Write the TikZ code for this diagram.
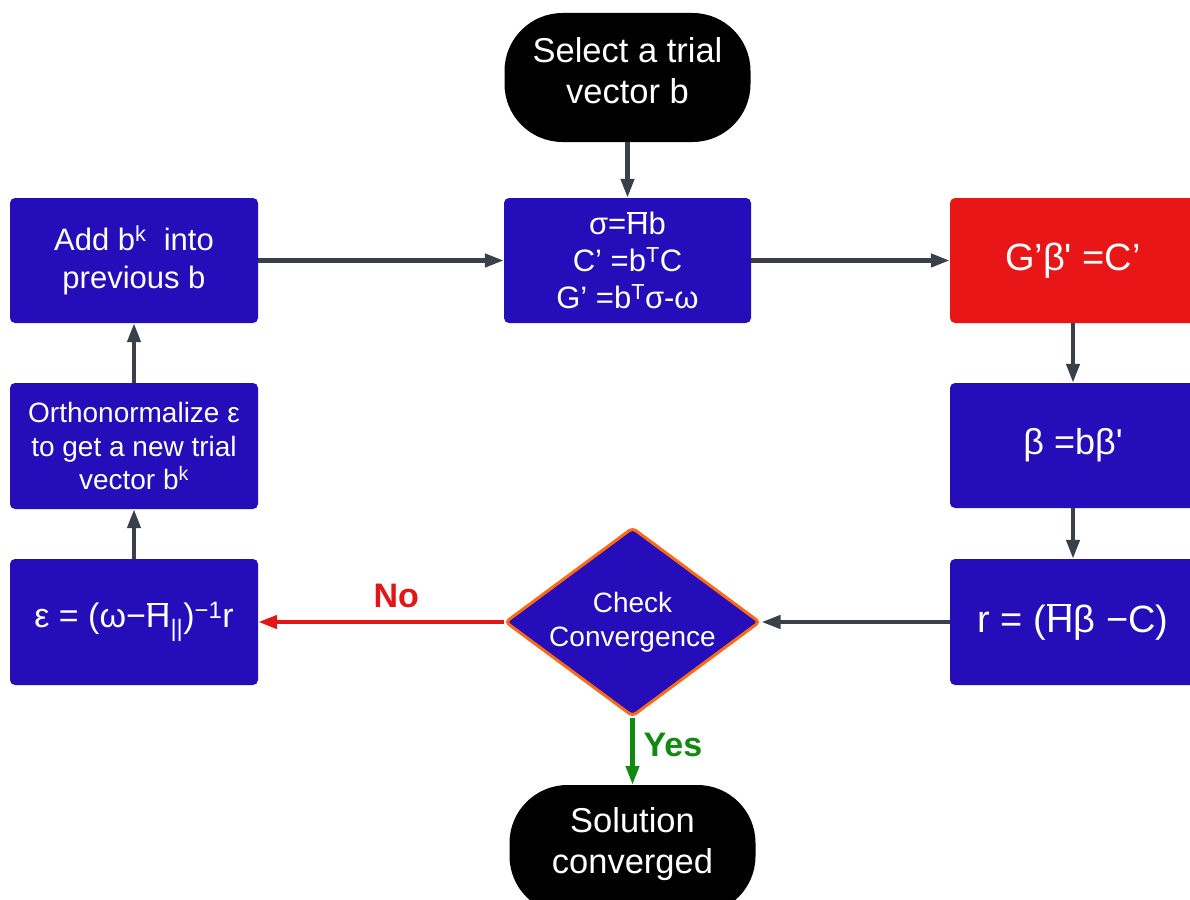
\documentclass[tikz,border=0pt]{standalone}
\usepackage{fontspec}
\setmainfont{Liberation Sans}[Ligatures=TeXOff]
\usetikzlibrary{arrows.meta,shapes.geometric}

\definecolor{boxblue}{RGB}{38,13,186}
\definecolor{boxred}{RGB}{232,22,22}
\definecolor{edgeorange}{RGB}{255,106,19}
\definecolor{arrowgray}{RGB}{58,64,74}
\definecolor{yesgreen}{RGB}{17,138,17}
\definecolor{nored}{RGB}{226,22,22}

% H with a bar along its top
\newcommand\Hbar{\leavevmode\rlap{\kern0.02em\rule[0.68em]{0.64em}{0.06em}}H}
\newcommand\fsz[2]{\fontsize{#1}{#2}\selectfont}

\tikzset{
  procbox/.style={rectangle, rounded corners=5pt, fill=boxblue, text=white,
    align=center, inner sep=0pt, minimum width=247pt, minimum height=125pt},
  termbox/.style={rectangle, rounded corners=58pt, fill=black, text=white,
    align=center, inner sep=0pt, minimum width=246pt, minimum height=129pt,
    text depth=13pt, font=\fsz{34.5}{41}},
  flow/.style={color=arrowgray, line width=4.3pt,
    -{Triangle[length=19pt,width=13pt]}},
  lbl/.style={font=\bfseries\fsz{34}{40}, inner sep=0pt},
}

\begin{document}
\begin{tikzpicture}[x=1pt,y=-1pt]
\fill[white] (0,0) rectangle (1190,899);
\useasboundingbox (0,0) rectangle (1190,899);

% terminals
\node[termbox] (start) at (627.5,77.5) {Select a trial\\vector b};
\node[termbox, text depth=19pt] (done) at (632.5,849.5) {Solution\\converged};

% centre column
\node[procbox, font=\fsz{31}{37}] (sigma) at (627.5,260.5)
  {σ=\Hbar b\\C’ =b\textsuperscript{T}C\\G’ =b\textsuperscript{T}σ-ω};

% right column
\node[procbox, fill=boxred, minimum width=246pt, font=\fsz{38}{44}] (gsolve) at (1073,260.5)
  {G’β' =C’};
\node[procbox, minimum width=246pt, font=\fsz{36}{42}] (beta) at (1073,445.5)
  {β =bβ'};
\node[procbox, minimum width=246pt, minimum height=126pt, font=\fsz{38}{44}] (resid) at (1073,622)
  {r = (\Hbar β −C)};

% left column
\node[procbox, minimum width=248pt, minimum height=126pt, font=\fsz{34}{40}] (eps) at (134,622)
  {ε = (ω−\Hbar\textsubscript{||})\textsuperscript{−1}r};
\node[procbox, minimum width=248pt, minimum height=126pt, font=\fsz{28}{33.5}] (ortho) at (134,446)
  {Orthonormalize ε\\to get a new trial\\vector b\textsuperscript{k}};
\node[procbox, minimum width=248pt, font=\fsz{31}{38}] (addb) at (134,260.5)
  {Add b\textsuperscript{k}\ \ into\\previous b};

% decision
\node[diamond, aspect=1.35, fill=boxblue, draw=edgeorange, line width=3pt,
  rounded corners=4pt, text=white, align=center, inner sep=0pt,
  minimum width=255pt, minimum height=189pt, font=\fsz{28}{34}] (check) at (632.5,622)
  {Check\\Convergence};

% connectors
\draw[flow] (start.south) -- (sigma.north);
\draw[flow] (addb.east) -- (sigma.west);
\draw[flow] (sigma.east) -- (gsolve.west);
\draw[flow] (gsolve.south) -- (beta.north);
\draw[flow] (beta.south) -- (resid.north);
\draw[flow] (resid.west) -- (check.east);
\draw[flow, color=nored] (check.west) --
  node[lbl, text=nored, pos=0.437, above=12pt] (nolbl) {No} (eps.east);
\draw[flow, color=yesgreen] (check.south) --
  node[lbl, text=yesgreen, pos=0.40, right=9pt] (yeslbl) {Yes} (done.north);
\draw[flow] (eps.north) -- (ortho.south);
\draw[flow] (ortho.north) -- (addb.south);
\end{tikzpicture}
\end{document}
